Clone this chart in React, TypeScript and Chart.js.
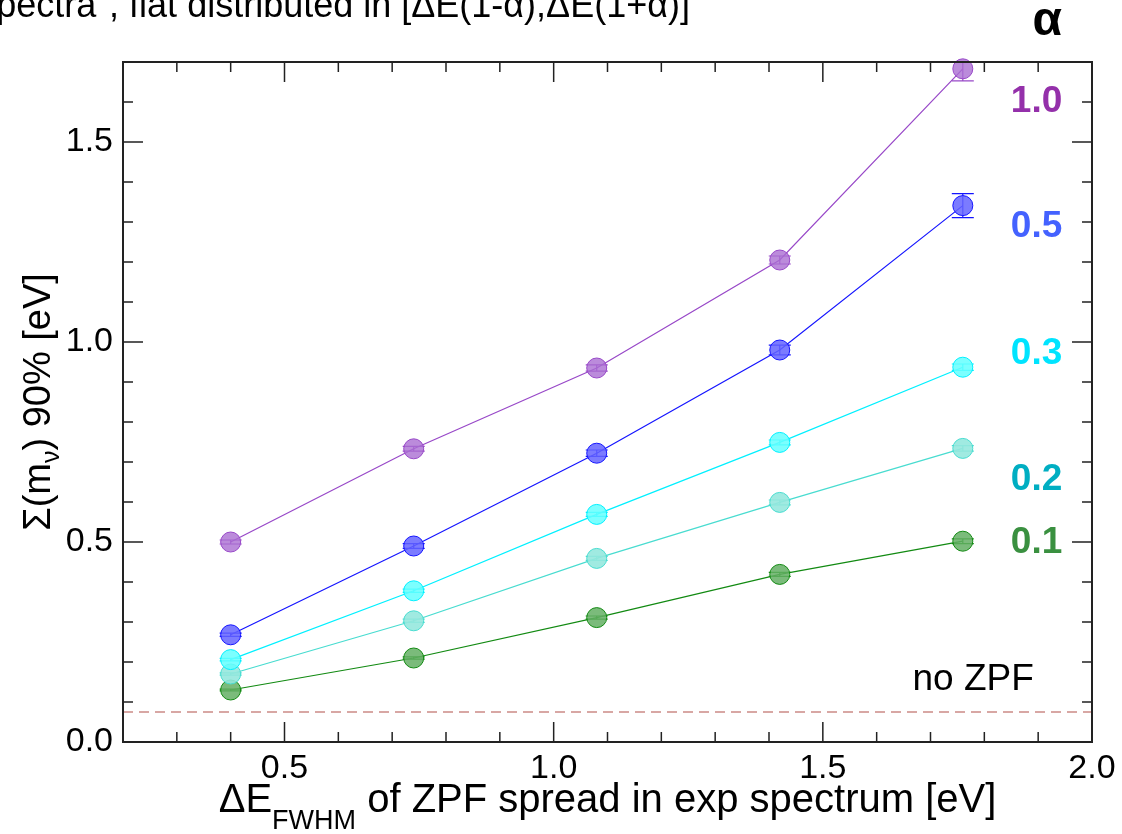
import React, { useEffect, useRef } from 'react';
import { Chart, registerables } from 'chart.js';
Chart.register(...registerables);

// ---- data ----
const xValues = [0.4, 0.74, 1.08, 1.42, 1.76];
const alpha10 = [0.5, 0.733, 0.935, 1.205, 1.683];
const alpha05 = [0.268, 0.49, 0.722, 0.98, 1.341];
const alpha03 = [0.206, 0.378, 0.569, 0.749, 0.937];
const alpha02 = [0.17, 0.303, 0.459, 0.599, 0.734];
const alpha01 = [0.13, 0.21, 0.311, 0.419, 0.502];
const alpha10Err = [0.005, 0.006, 0.008, 0.01, 0.03];
const alpha05Err = [0.004, 0.006, 0.008, 0.012, 0.03];
const alpha03Err = [0.003, 0.004, 0.005, 0.006, 0.008];
const alpha02Err = [0.003, 0.004, 0.005, 0.006, 0.007];
const alpha01Err = [0.002, 0.003, 0.004, 0.005, 0.006];
const seriesNames = ['1.0', '0.5', '0.3', '0.2', '0.1'];
const seriesLabelY = [1.6, 1.288, 0.97, 0.656, 0.498];
const noZpfLevel = 0.075;
const xTickValues = [0.5, 1.0, 1.5, 2.0];
const yTickValues = [0.0, 0.5, 1.0, 1.5];

const seriesValues = [alpha10, alpha05, alpha03, alpha02, alpha01];
const seriesErrors = [alpha10Err, alpha05Err, alpha03Err, alpha02Err, alpha01Err];
const lineColors = ['#9848c8', '#1414ff', '#00f0ff', '#48dcd0', '#128a12'];
const fillColors = ['rgba(170,110,210,0.8)', 'rgba(100,100,255,0.85)', 'rgba(100,255,255,0.85)', 'rgba(150,232,222,0.9)', 'rgba(100,175,100,0.85)'];
const labelColors = ['#9430aa', '#4462ff', '#00e4ff', '#00aec2', '#3a9040'];

const FONT = '"Liberation Sans", Arial, sans-serif';

const decorPlugin = {
  id: 'decor',
  beforeDatasetsDraw(chart: any) {
    const ctx = chart.ctx;
    const xs = chart.scales.x;
    const ys = chart.scales.y;
    ctx.save();
    seriesValues.forEach((vals, i) => {
      ctx.strokeStyle = lineColors[i];
      ctx.lineWidth = 1.2;
      vals.forEach((v, j) => {
        const e = seriesErrors[i][j];
        const px = xs.getPixelForValue(xValues[j]);
        const top = Math.max(ys.getPixelForValue(v + e), chart.chartArea.top);
        const bot = ys.getPixelForValue(v - e);
        ctx.beginPath();
        ctx.moveTo(px, top);
        ctx.lineTo(px, bot);
        if (ys.getPixelForValue(v + e) >= chart.chartArea.top) {
          ctx.moveTo(px - 11, top);
          ctx.lineTo(px + 11, top);
        }
        ctx.moveTo(px - 11, bot);
        ctx.lineTo(px + 11, bot);
        ctx.stroke();
      });
    });
    ctx.restore();
  },
  afterDraw(chart: any) {
    const ctx = chart.ctx;
    const xs = chart.scales.x;
    const ys = chart.scales.y;
    const { left, right, top, bottom } = chart.chartArea;
    ctx.save();
    // frame
    ctx.strokeStyle = '#222';
    ctx.lineWidth = 2;
    ctx.strokeRect(left, top, right - left, bottom - top);
    // ticks
    ctx.lineWidth = 1.5;
    ctx.beginPath();
    for (let k = 3; k <= 19; k++) {
      const v = k / 10;
      const px = xs.getPixelForValue(v);
      const len = k % 5 === 0 ? 20 : 10;
      ctx.moveTo(px, bottom);
      ctx.lineTo(px, bottom - len);
      ctx.moveTo(px, top);
      ctx.lineTo(px, top + len);
    }
    for (let k = 1; k <= 16; k++) {
      const v = k / 10;
      const py = ys.getPixelForValue(v);
      const len = k % 5 === 0 ? 20 : 10;
      ctx.moveTo(left, py);
      ctx.lineTo(left + len, py);
      ctx.moveTo(right, py);
      ctx.lineTo(right - len, py);
    }
    ctx.stroke();

    // series labels
    ctx.textAlign = 'center';
    ctx.textBaseline = 'middle';
    ctx.font = `bold 37px ${FONT}`;
    const lx = xs.getPixelForValue(1.897);
    seriesNames.forEach((n, i) => {
      ctx.fillStyle = labelColors[i];
      ctx.fillText(n, lx, ys.getPixelForValue(seriesLabelY[i]));
    });
    // alpha header
    ctx.fillStyle = '#000';
    ctx.font = `bold 48px ${FONT}`;
    ctx.fillText('α', xs.getPixelForValue(1.917), ys.getPixelForValue(1.8));

    // no ZPF
    ctx.font = `37px ${FONT}`;
    ctx.textAlign = 'right';
    ctx.fillStyle = '#000';
    ctx.fillText('no ZPF', xs.getPixelForValue(1.892), ys.getPixelForValue(0.155));

    // top (cut) title
    ctx.textAlign = 'right';
    ctx.textBaseline = 'alphabetic';
    ctx.font = `36px ${FONT}`;
    ctx.fillText('spectra", flat distributed in [ΔE(1-α),ΔE(1+α)]', 690, 17);

    // x axis title
    const mainF = `40px ${FONT}`;
    const subF = `27px ${FONT}`;
    const p1 = 'ΔE';
    const p2 = 'FWHM';
    const p3 = ' of ZPF spread in exp spectrum [eV]';
    ctx.font = mainF;
    const w1 = ctx.measureText(p1).width;
    const w3 = ctx.measureText(p3).width;
    ctx.font = subF;
    const w2 = ctx.measureText(p2).width;
    const total = w1 + w2 + w3;
    let sx = (left + right) / 2 - total / 2;
    const by = 812;
    ctx.textAlign = 'left';
    ctx.font = mainF;
    ctx.fillText(p1, sx, by);
    sx += w1;
    ctx.font = subF;
    ctx.fillText(p2, sx, by + 17);
    sx += w2;
    ctx.font = mainF;
    ctx.fillText(p3, sx, by);

    // y axis title
    const yMainF = `38px ${FONT}`;
    const ySubF = `25px ${FONT}`;
    const q1 = 'Σ(m';
    const q2 = 'ν';
    const q3 = ') 90% [eV]';
    ctx.font = yMainF;
    const v1 = ctx.measureText(q1).width;
    const v3 = ctx.measureText(q3).width;
    ctx.font = ySubF;
    const v2 = ctx.measureText(q2).width;
    const tot2 = v1 + v2 + v3;
    ctx.translate(50, (top + bottom) / 2);
    ctx.rotate(-Math.PI / 2);
    let sy = -tot2 / 2;
    ctx.font = yMainF;
    ctx.fillText(q1, sy, 0);
    sy += v1;
    ctx.font = ySubF;
    ctx.fillText(q2, sy, 9);
    sy += v2;
    ctx.font = yMainF;
    ctx.fillText(q3, sy, 0);
    ctx.restore();
  },
};

export default function App() {
  const ref = useRef<HTMLCanvasElement>(null);
  useEffect(() => {
    if (!ref.current) return;
    const datasets: any[] = seriesValues.map((vals, i) => ({
      label: 'α=' + seriesNames[i],
      data: vals.map((v, j) => ({ x: xValues[j], y: v })),
      showLine: true,
      borderColor: lineColors[i],
      borderWidth: 1.2,
      pointRadius: 10,
      pointBackgroundColor: fillColors[i],
      pointBorderColor: lineColors[i],
      pointBorderWidth: 1,
      clip: false,
    }));
    datasets.push({
      label: 'no ZPF',
      data: [
        { x: 0.2, y: noZpfLevel },
        { x: 2.0, y: noZpfLevel },
      ],
      showLine: true,
      borderColor: '#cc8a86',
      borderWidth: 1.3,
      borderDash: [10, 6],
      pointRadius: 0,
    });
    const chart = new Chart(ref.current, {
      type: 'scatter',
      data: { datasets },
      options: {
        animation: false,
        responsive: false,
        layout: { padding: { top: 62, right: 30, left: 0, bottom: 0 } },
        plugins: { legend: { display: false }, tooltip: { enabled: false } },
        scales: {
          x: {
            type: 'linear',
            min: 0.2,
            max: 2.0,
            grid: { display: false, drawTicks: false },
            border: { display: false },
            afterBuildTicks: (s: any) => {
              s.ticks = xTickValues.map((v) => ({ value: v }));
            },
            afterFit: (s: any) => {
              s.height = 92;
            },
            ticks: {
              padding: 6,
              color: '#000',
              font: { family: FONT, size: 34 },
              maxRotation: 0,
              autoSkip: false,
              callback: (v: any) => Number(v).toFixed(1),
            },
          },
          y: {
            type: 'linear',
            min: 0,
            max: 1.7,
            grid: { display: false, drawTicks: false },
            border: { display: false },
            afterBuildTicks: (s: any) => {
              s.ticks = yTickValues.map((v) => ({ value: v }));
            },
            afterFit: (s: any) => {
              s.width = 123;
            },
            ticks: {
              padding: 10,
              color: '#000',
              font: { family: FONT, size: 34 },
              autoSkip: false,
              callback: (v: any) => Number(v).toFixed(1),
            },
          },
        },
      },
      plugins: [decorPlugin],
    });
    return () => chart.destroy();
  }, []);
  return (
    <div style={{ position: 'absolute', left: 0, top: 0, width: 1122, height: 834, background: '#fff' }}>
      <canvas ref={ref} width={1122} height={834} style={{ width: 1122, height: 834 }} />
    </div>
  );
}
